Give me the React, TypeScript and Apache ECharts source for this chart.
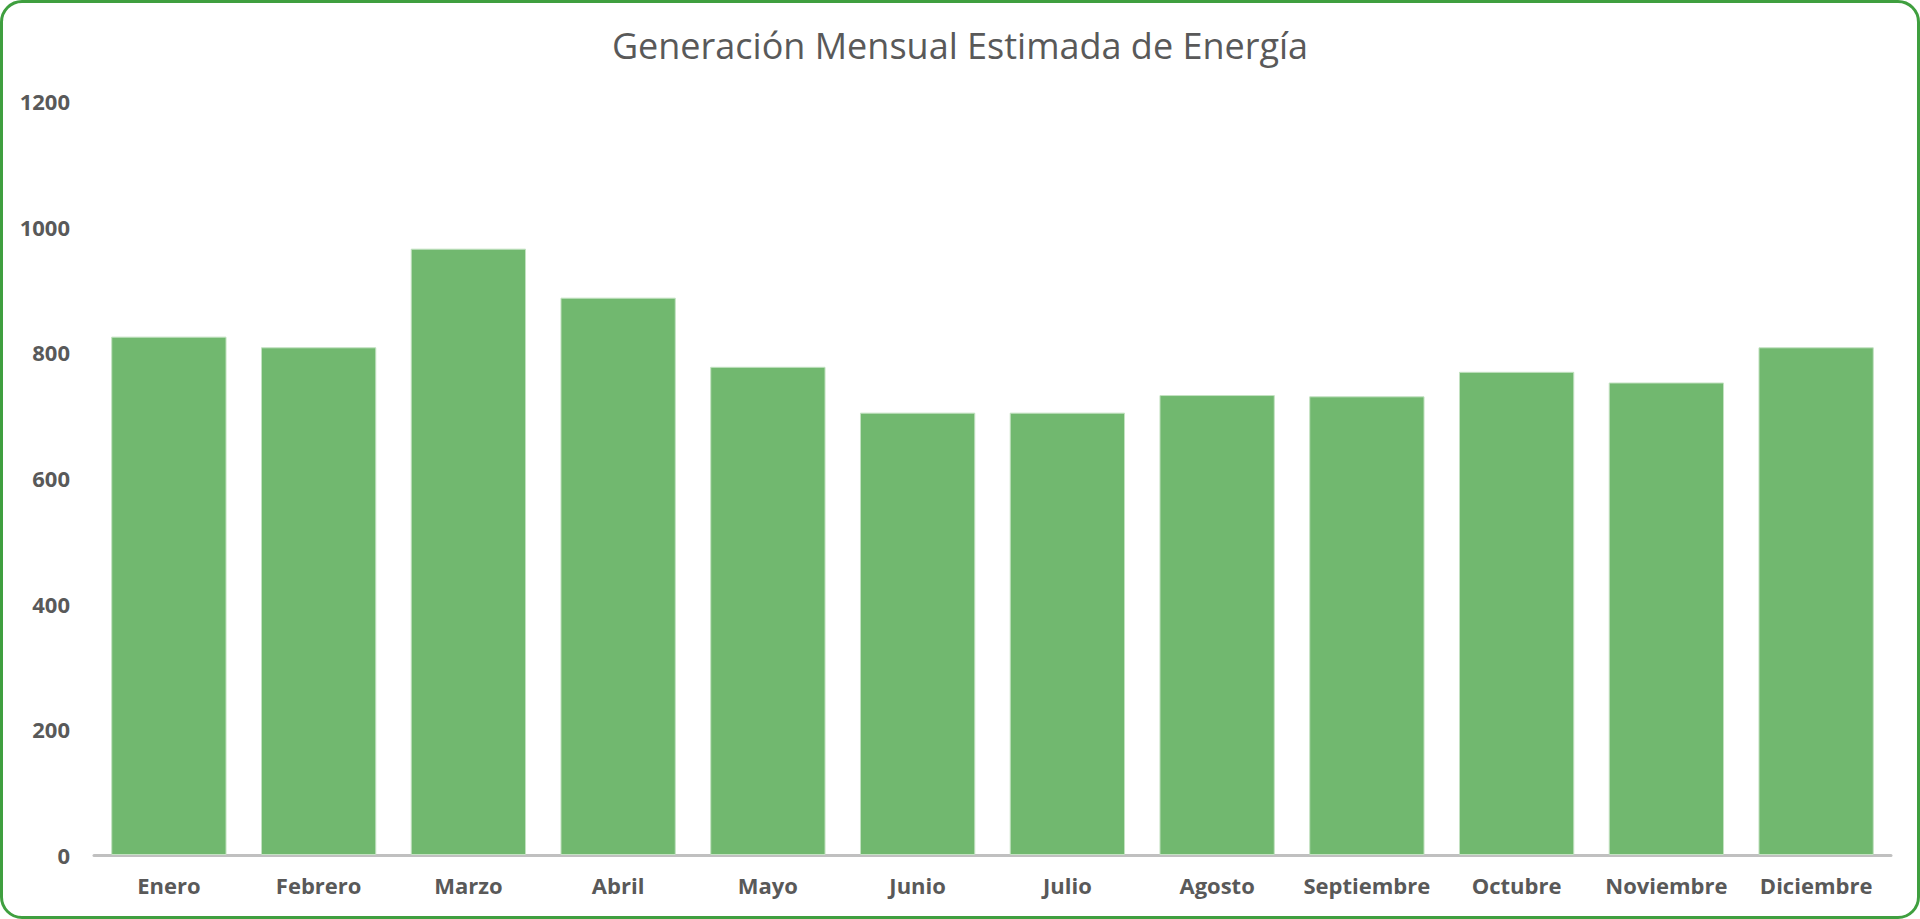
import { useEffect, useRef } from "react";
import * as echarts from "echarts";

const months = [
  "Enero", "Febrero", "Marzo", "Abril", "Mayo", "Junio",
  "Julio", "Agosto", "Septiembre", "Octubre", "Noviembre", "Diciembre"
];
const energy = [825, 808, 965, 887, 777, 704, 704, 732, 730, 769, 752, 808];
const yTicks = { min: 0, max: 1200, interval: 200 };
const chartTitle = "Generación Mensual Estimada de Energía";

export default function App() {
  const chartRef = useRef<HTMLDivElement | null>(null);

  useEffect(() => {
    document.body.style.margin = "0";
    const container = chartRef.current;
    if (!container) return;
    const chart = echarts.init(container, null, { renderer: "svg" });

    chart.setOption({
      animation: false,
      backgroundColor: "#ffffff",
      title: {
        text: chartTitle,
        left: "center",
        top: 22,
        textStyle: {
          fontFamily: "Open Sans",
          fontWeight: "normal",
          fontSize: 36,
          color: "#595959"
        }
      },
      grid: { left: 94, right: 29, top: 101, bottom: 64 },
      xAxis: {
        type: "category",
        data: months,
        axisLine: { lineStyle: { color: "#c0c0c0", width: 3 } },
        axisTick: { show: false },
        axisLabel: {
          interval: 0,
          color: "#595959",
          fontFamily: "Open Sans",
          fontWeight: "bold",
          fontSize: 22,
          margin: 19
        }
      },
      yAxis: {
        type: "value",
        min: yTicks.min,
        max: yTicks.max,
        interval: yTicks.interval,
        axisLine: { show: false },
        axisTick: { show: false },
        splitLine: { show: false },
        axisLabel: {
          formatter: (v: number) => String(v),
          color: "#595959",
          fontFamily: "Open Sans",
          fontWeight: "bold",
          fontSize: 22,
          margin: 24
        }
      },
      series: [
        {
          type: "bar",
          data: energy,
          barCategoryGap: "23%",
          itemStyle: {
            color: "#71b86f",
            borderColor: "#c4e2c2",
            borderWidth: 1
          }
        }
      ]
    });

    return () => chart.dispose();
  }, []);

  return (
    <div style={{ position: "relative", width: 1920, height: 919, overflow: "hidden" }}>
      <div ref={chartRef} style={{ position: "absolute", left: 0, top: 0, width: 1920, height: 919 }} />
      <div
        style={{
          position: "absolute",
          inset: 0,
          border: "3px solid #3f9f3f",
          borderRadius: 22,
          boxSizing: "border-box",
          pointerEvents: "none"
        }}
      />
    </div>
  );
}
